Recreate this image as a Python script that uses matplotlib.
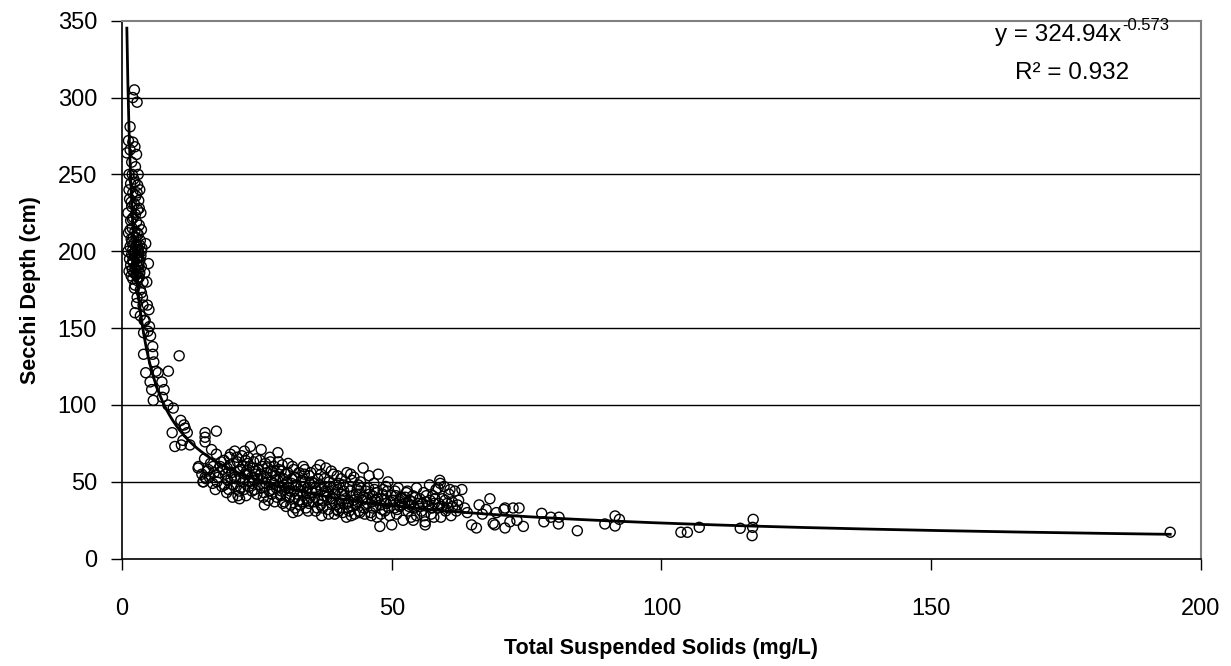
import matplotlib
matplotlib.use("Agg")
import matplotlib.pyplot as plt
import numpy as np

plt.rcParams['font.family'] = ['Liberation Sans', 'DejaVu Sans']

# Total Suspended Solids (mg/L) and Secchi depth (cm)
steep_tss = [2.3, 2.0, 2.8, 1.5, 1.2, 2.0, 0.9, 2.7, 1.5, 2.4,
             1.8, 2.5, 1.3, 3.0, 2.2, 1.6, 2.9, 3.3, 2.0, 2.6,
             1.4, 3.1, 2.3, 1.8, 2.9, 3.5, 2.1, 1.6, 2.7, 3.2,
             1.9, 2.4, 1.2, 3.0, 2.6, 1.7, 3.4, 2.2, 2.8, 1.5,
             3.7, 2.0, 2.5, 3.1, 1.8, 2.3, 2.9, 1.4, 3.3, 2.1,
             2.7, 1.6, 3.6, 2.4, 1.9, 3.0, 2.2, 2.6, 1.7, 3.2,
             2.0, 2.8, 3.9, 2.4, 4.9, 4.6, 2.7, 2.4, 5.0, 5.1,
             4.0, 5.7, 4.0, 5.7, 10.6, 4.4, 6.7, 8.6, 5.2, 7.4,
             5.5, 7.5, 5.8, 9.5, 10.9, 11.7, 9.3, 9.8, 11.3, 12.6,
             11.5, 12.1, 11.0, 15.4, 15.4, 15.4, 17.5, 14.1, 15.4, 15.0,
             3.4, 3.8, 4.2, 3.6, 4.4, 3.1, 2.9, 3.4, 4.1, 4.7,
             1.9, 2.4, 2.8, 1.7, 3.2, 2.5, 1.9, 3.6, 2.8, 2.1,
             3.3, 2.6, 1.8, 3.0, 2.2, 3.5, 2.7, 2.0, 3.1, 2.5,
             3.3, 2.9, 2.3, 3.6, 2.8, 3.9, 4.3, 4.8, 5.3, 5.9,
             6.3, 7.8, 8.5, 1.3, 1.1, 1.5, 1.1, 1.3]
steep_sd = [305, 300, 297, 281, 272, 271, 264, 263, 266, 268,
            258, 255, 250, 250, 247, 244, 243, 240, 238, 236,
            234, 233, 231, 229, 227, 225, 222, 220, 219, 217,
            215, 213, 212, 211, 209, 208, 207, 205, 204, 203,
            202, 201, 200, 199, 198, 197, 196, 195, 194, 193,
            192, 191, 190, 189, 188, 187, 186, 185, 184, 183,
            182, 181, 180, 178, 192, 180, 166, 160, 162, 151,
            147, 138, 133, 133, 132, 121, 121, 122, 115, 115,
            110, 105, 103, 98, 90, 85, 82, 73, 77, 74,
            87, 82, 74, 76, 79, 82, 83, 59, 53, 50,
            175, 170, 186, 200, 205, 196, 190, 158, 155, 165,
            250, 245, 238, 232, 228, 224, 221, 214, 212, 209,
            204, 203, 206, 201, 199, 197, 195, 194, 191, 188,
            186, 183, 176, 173, 170, 165, 155, 148, 145, 128,
            122, 110, 100, 240, 225, 214, 200, 187]

mid_tss = [14.2, 14.8, 15.3, 15.6, 16.0, 16.4, 16.8, 17.1, 17.5, 17.8,
           18.2, 18.5, 18.9, 19.2, 19.6, 19.9, 15.1, 16.6, 17.3, 18.7,
           19.4, 20.0,
           20.3, 20.6, 20.9, 21.1, 21.4, 21.7, 21.9, 22.2, 22.5, 22.8,
           23.0, 23.3, 23.5, 23.8, 24.0, 24.3, 24.6, 24.9, 20.5, 21.8,
           22.4, 23.1, 24.2, 25.0, 21.3, 22.9, 24.7, 23.6, 20.8, 22.0,
           25.3, 25.5, 25.8, 26.1, 26.3, 26.6, 26.9, 27.1, 27.4, 27.6,
           27.9, 28.2, 28.4, 28.7, 28.9, 29.2, 29.5, 29.8, 25.6, 26.4,
           27.0, 27.8, 28.5, 29.0, 29.6, 25.9, 26.7, 28.0, 29.3, 30.0,
           30.3, 30.5, 30.8, 31.0, 31.3, 31.5, 31.8, 32.0, 32.3, 32.6,
           32.8, 33.1, 33.4, 33.6, 33.9, 34.1, 34.4, 34.7, 34.9, 30.6,
           31.2, 31.9, 32.5, 33.0, 33.7, 34.3, 35.0, 30.1, 31.7, 33.3,
           35.3, 35.6, 35.9, 36.1, 36.4, 36.7, 36.9, 37.2, 37.5, 37.8,
           38.0, 38.3, 38.6, 38.9, 39.2, 39.5, 39.8, 35.5, 36.3, 37.0,
           37.7, 38.4, 39.1, 39.7, 36.8, 38.8, 35.8, 37.4, 39.4, 40.0,
           40.3, 40.6, 40.9, 41.1, 41.4, 41.7, 41.9, 42.2, 42.5, 42.8,
           43.0, 43.3, 43.6, 43.9, 44.2, 44.5, 44.7, 41.0, 42.0, 43.1,
           44.0, 42.7, 40.8, 43.8, 44.9, 41.6, 42.4, 40.1,
           45.2, 45.5, 45.8, 46.1, 46.4, 46.7, 47.0, 47.3, 47.5, 47.8,
           48.1, 48.4, 48.7, 49.0, 49.3, 49.6, 49.9, 45.7, 46.5, 47.2,
           48.0, 48.9, 50.0, 46.9, 45.0, 49.5,
           50.3, 50.6, 50.9, 51.2, 51.5, 51.8, 52.1, 52.4, 52.7, 53.0,
           53.3, 53.6, 53.9, 54.2, 54.6, 54.6, 54.9, 51.0, 52.0, 53.5,
           50.5, 52.9, 54.0,
           55.2, 55.5, 55.9, 56.2, 56.2, 56.5, 56.8, 57.0, 57.3, 57.6,
           57.9, 58.2, 58.5, 58.9, 59.1, 59.4, 59.7, 60.0, 60.3, 60.6,
           61.0, 61.3, 61.7, 62.0, 62.4, 63.0, 63.5, 64.0, 64.8, 65.7,
           66.2, 66.8, 67.5, 68.2, 69.1, 68.8, 69.4, 70.8, 71.0, 71.0,
           71.9, 72.5, 73.2, 73.6, 74.4,
           15.8, 16.2, 16.9, 17.6, 18.0, 18.4, 19.0, 19.5, 20.2, 20.7,
           21.2, 21.6, 22.1, 22.6, 23.2, 23.7, 24.1, 24.5, 24.8, 21.5,
           19.8, 22.7, 23.4, 24.4, 20.1,
           25.2, 25.7, 26.0, 26.5, 26.8, 27.3, 27.7, 28.1, 28.6, 29.1,
           29.4, 29.9, 30.2, 30.7, 31.1, 31.4, 31.9, 32.2, 32.7, 33.2,
           33.5, 33.8, 34.2, 34.6, 34.8, 26.2, 28.3, 30.4, 32.1, 34.5,
           27.5, 29.7, 31.6, 33.9,
           35.2, 35.7, 36.0, 36.6, 37.1, 37.6, 38.1, 38.7, 39.0, 39.6,
           40.2, 40.7, 41.2, 41.8, 42.3, 42.9, 43.4, 43.7, 44.3, 44.8,
           45.3, 45.9, 46.3, 46.8, 47.4, 47.9, 48.3, 48.8, 49.2, 49.8,
           36.2, 38.2, 40.4, 42.1, 44.1, 46.2, 48.2, 36.9, 39.9, 42.6,
           50.8, 51.4, 51.9, 52.5, 53.2, 53.8, 54.4, 55.0, 55.7, 56.4,
           57.1, 57.5, 58.0, 58.7, 59.3, 59.9, 60.5, 61.2, 62.2, 58.6,
           59.0, 60.8, 56.0, 57.8]
mid_sd = [60, 55, 65, 52, 58, 62, 49, 56, 68, 53,
          60, 47, 64, 55, 51, 66, 50, 71, 45, 58,
          43, 61,
          56, 48, 70, 52, 63, 44, 58, 67, 50, 55,
          41, 62, 47, 73, 53, 59, 45, 65, 40, 39,
          60, 57, 49, 42, 66, 64, 55, 51, 53, 46,
          58, 48, 71, 52, 43, 62, 56, 38, 66, 50,
          45, 60, 54, 40, 69, 47, 57, 36, 64, 35,
          59, 42, 51, 63, 44, 46, 49, 56, 53, 48,
          55, 41, 62, 46, 35, 52, 58, 39, 48, 31,
          56, 44, 37, 60, 50, 33, 46, 54, 40, 50,
          44, 53, 42, 35, 47, 38, 56, 37, 30, 51,
          43, 49, 31, 58, 38, 61, 45, 33, 52, 59,
          40, 29, 47, 36, 55, 42, 32, 37, 52, 28,
          44, 50, 39, 48, 35, 57, 46, 41, 29, 45,
          36, 52, 30, 44, 39, 56, 33, 47, 28, 41,
          53, 35, 45, 31, 50, 38, 59, 48, 37, 29,
          42, 34, 42, 48, 33, 27, 55, 31,
          44, 36, 54, 30, 41, 49, 34, 27, 55, 21,
          39, 45, 31, 36, 50, 28, 41, 46, 33, 43,
          29, 47, 22, 38, 29, 33,
          38, 44, 29, 46, 34, 40, 25, 36, 43, 31,
          38, 27, 41, 33, 46, 28, 36, 32, 39, 35,
          33, 44, 25,
          39, 31, 43, 24, 22, 37, 34, 48, 29, 41,
          36, 45, 33, 51, 27, 39, 47, 31, 36, 42,
          28, 34, 44, 31, 38, 45, 33, 30, 22, 20,
          35, 29, 32, 39, 22, 23, 30, 32, 20, 33,
          24, 33, 25, 33, 21,
          57, 53, 60, 50, 56, 63, 48, 59, 52, 62,
          47, 57, 53, 45, 55, 60, 44, 51, 57, 41,
          45, 70, 66, 63, 68,
          52, 55, 60, 47, 53, 44, 57, 49, 46, 58,
          41, 52, 45, 56, 40, 49, 44, 53, 38, 47,
          42, 55, 43, 36, 49, 40, 37, 34, 33, 31,
          63, 61, 60, 58,
          50, 40, 44, 48, 38, 47, 43, 39, 46, 35,
          49, 38, 41, 36, 44, 38, 42, 37, 46, 40,
          39, 42, 37, 45, 39, 35, 42, 38, 44, 37,
          33, 32, 33, 31, 30, 28, 32, 55, 54, 51,
          41, 37, 35, 40, 34, 37, 40, 34, 36, 41,
          38, 33, 39, 36, 34, 38, 33, 37, 35, 46,
          49, 45, 28, 27]

tail_tss = [77.8, 78.2, 79.5, 81.0, 80.9, 84.4, 89.5, 91.4, 92.2, 91.4,
            103.6, 104.8, 107.0, 114.6, 117.0, 116.9, 116.8, 194.3]
tail_sd = [29.5, 24, 27, 27, 22.6, 18.2, 22.6, 27.8, 25.6, 21.3,
           17.2, 17.2, 20.4, 19.8, 25.6, 20.4, 15, 17.2]

# Power trend line reported on the chart: y = 324.94 x^-0.573, R² = 0.932
fit_a = 324.94
fit_b = -0.573
fit_r2 = 0.932

x_ticks = [0, 50, 100, 150, 200]
y_ticks = [0, 50, 100, 150, 200, 250, 300, 350]

tss = np.array(steep_tss + mid_tss + tail_tss)
sd = np.array(steep_sd + mid_sd + tail_sd)

fig = plt.figure(figsize=(12.31, 6.66), dpi=100)
ax = fig.add_axes([0.0991, 0.1611, 0.8765, 0.8078])

ax.set_xlim(0, 200)
ax.set_ylim(0, 350)
ax.set_xticks(x_ticks)
ax.set_yticks(y_ticks)

for yv in y_ticks[1:-1]:
    ax.axhline(yv, color='black', lw=1.0, zorder=1)

ax.scatter(tss, sd, s=52, facecolors='none', edgecolors='black',
           linewidths=1.0, zorder=3)

xf = np.linspace(0.90, tss.max(), 2000)
ax.plot(xf, fit_a * xf ** fit_b, color='black', lw=2.0, zorder=4)

for s in ['top', 'right']:
    ax.spines[s].set_color('#808080')
    ax.spines[s].set_linewidth(1.5)
for s in ['left', 'bottom']:
    ax.spines[s].set_color('black')
    ax.spines[s].set_linewidth(1.2)

ax.tick_params(axis='both', direction='out', length=8, width=1.0,
               labelsize=17, colors='black')
ax.tick_params(axis='y', pad=10)
ax.tick_params(axis='x', pad=20)

ax.set_xlabel('Total Suspended Solids (mg/L)', fontsize=15.5, fontweight='bold', labelpad=13)
ax.set_ylabel('Secchi Depth (cm)', fontsize=15.5, fontweight='bold', labelpad=12)

# trendline label: base text and superscript exponent (with a plain hyphen)
fig.text(1121 / 1231, 1 - 41 / 666, 'y = %.2fx' % fit_a,
         ha='right', va='baseline', fontsize=17.5)
fig.text(1122 / 1231, 1 - 30 / 666, '%.3f' % fit_b,
         ha='left', va='baseline', fontsize=12)
fig.text(1072 / 1231, 1 - 73 / 666, 'R² = %.3f' % fit_r2,
         ha='center', va='center', fontsize=17.5)

fig.savefig('out.png', dpi=100)
